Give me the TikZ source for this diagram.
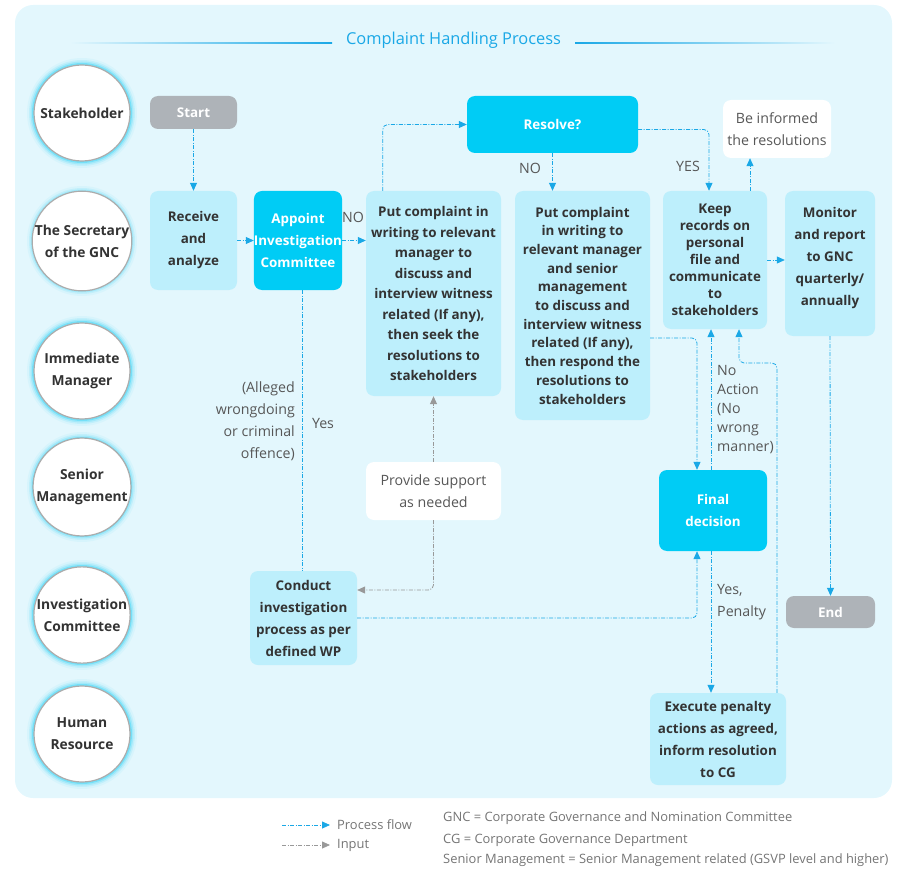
\documentclass[tikz,border=0pt]{standalone}
\usepackage{fontspec}
\setmainfont{Open Sans}
\usetikzlibrary{arrows.meta}

\definecolor{panel}{HTML}{E3F7FD}
\definecolor{pale}{HTML}{BDEFFC}
\definecolor{vivid}{HTML}{00CCF5}
\definecolor{stone}{HTML}{AEB3B8}
\definecolor{flowblue}{HTML}{1AA8E6}
\definecolor{inkgray}{HTML}{333333}
\definecolor{notegray}{HTML}{575757}
\definecolor{keygray}{HTML}{757575}

\newcommand{\boxfont}[1]{\fontsize{13.4pt}{#1pt}\selectfont\bfseries}
\newcommand{\lanefont}{\fontsize{13.8pt}{22pt}\selectfont\bfseries}
\newcommand{\notefont}[1]{\fontsize{14.2pt}{#1pt}\selectfont}

\begin{document}
\begin{tikzpicture}[x=1pt,y=-1pt,>={Triangle[length=8pt,width=7pt]}]
    \tikzstyle{lane}=[circle,draw=gray!65,line width=1.2pt,fill=white,minimum size=96pt,
                      inner sep=0pt,align=center,text=inkgray,font=\lanefont]
    \tikzstyle{paletask}=[rectangle,rounded corners=8pt,fill=pale,text=inkgray,align=center,inner sep=0pt]
    \tikzstyle{keytask}=[rectangle,rounded corners=8pt,fill=vivid,text=white,align=center,inner sep=0pt]
    \tikzstyle{endpoint}=[rectangle,rounded corners=8pt,fill=stone,text=white,align=center,
                          inner sep=0pt,font=\boxfont{20}]
    \tikzstyle{notebox}=[rectangle,rounded corners=8pt,fill=white,text=notegray,align=center,
                         inner sep=0pt,font=\notefont{22}]
    \tikzstyle{lbl}=[text=notegray,inner sep=0pt,font=\notefont{22}]
    \tikzstyle{flow}=[->,draw=flowblue,line width=0.8pt,rounded corners=5pt,
                      dash pattern=on 4pt off 1.5pt on 1pt off 1.5pt]
    \tikzstyle{input}=[->,draw=gray!80,line width=0.8pt,rounded corners=5pt,
                       dash pattern=on 4pt off 1.5pt on 1pt off 1.5pt]
    \tikzstyle{keytext}=[text=keygray,inner sep=0pt,anchor=west,font=\fontsize{12.9pt}{16pt}\selectfont]

    \useasboundingbox (0,0) rectangle (907,877);
    \fill[panel,rounded corners=18pt] (15,5) rectangle (892,798);

    % title
    \node[text=flowblue,font=\fontsize{16.4pt}{18pt}\selectfont] (title) at (453.5,40) {Complaint Handling Process};
    \shade[left color=panel,right color=flowblue] (70,42.5) rectangle (332,44);
    \shade[left color=flowblue,right color=panel] (575,42.5) rectangle (835,44);

    % lanes
    \foreach \y/\name/\txt in {113/stake/Stakeholder, 241/sec/{The Secretary\\of the GNC},
                               371/imm/{Immediate\\Manager}, 487/senior/{Senior\\Management},
                               615/invc/{Investigation\\Committee}, 734/hr/{Human\\Resource}}{
        \foreach \r/\op in {55/0.05,53/0.1,51.5/0.16,50/0.28}
            \fill[vivid,opacity=\op] (82,\y) circle (\r pt);
        \node[lane] (\name) at (82,\y) {\txt};
    }

    % process steps
    \node[endpoint,minimum width=87pt,minimum height=33pt] (start) at (193.5,112.5) {Start};
    \node[paletask,minimum width=87pt,minimum height=99pt,font=\boxfont{22}] (receive) at (193.5,240.5) {Receive\\and\\analyze};
    \node[keytask,minimum width=86pt,minimum height=99pt,font=\boxfont{22}] (appoint) at (298,240.5) {Appoint\\Investigation\\Committee};
    \node[paletask,minimum width=135pt,minimum height=205pt,font=\boxfont{20.5}] (put1) at (433.5,293.5)
        {Put complaint in\\writing to relevant\\manager to\\discuss and\\interview witness\\related (If any),\\then seek the\\resolutions to\\stakeholders};
    \node[keytask,minimum width=171pt,minimum height=57pt,font=\boxfont{20}] (resolve) at (552.5,124.5) {Resolve?};
    \node[paletask,minimum width=135pt,minimum height=229pt,font=\boxfont{18.7}] (put2) at (582.5,305.5)
        {Put complaint\\in writing to\\relevant manager\\and senior\\management\\to discuss and\\interview witness\\related (If any),\\then respond the\\resolutions to\\stakeholders};
    \node[paletask,minimum width=104pt,minimum height=138pt,font=\boxfont{17}] (keep) at (715,260)
        {Keep\\records on\\personal\\file and\\communicate\\to\\stakeholders};
    \node[notebox,minimum width=108pt,minimum height=58pt] (inform) at (777,129) {Be informed\\the resolutions};
    \node[paletask,minimum width=90pt,minimum height=145pt,font=\boxfont{22}] (monitor) at (830,263.5)
        {Monitor\\and report\\to GNC\\quarterly/\\annually\\[-7pt]};
    \node[keytask,minimum width=108pt,minimum height=81pt,font=\boxfont{22}] (final) at (713,510.5) {Final\\decision};
    \node[endpoint,minimum width=89pt,minimum height=32pt] (end) at (830.5,612) {End};
    \node[paletask,minimum width=107pt,minimum height=94pt,font=\boxfont{22}] (conduct) at (303.5,618)
        {Conduct\\investigation\\process as per\\defined WP};
    \node[notebox,minimum width=135pt,minimum height=58pt] (support) at (433.5,491) {Provide support\\as needed};
    \node[paletask,minimum width=136pt,minimum height=92pt,font=\boxfont{22}] (execute) at (718,739)
        {Execute penalty\\actions as agreed,\\inform resolution\\to CG};

    % connector labels
    \node[lbl] (noA) at (353,217) {NO};
    \node[lbl] (noB) at (530,168) {NO};
    \node[lbl] (yesA) at (688,166) {YES};
    \node[lbl,anchor=east,align=right] (alleged) at (295,421.5) {(Alleged\\wrongdoing\\or criminal\\offence)};
    \node[lbl] (yesB) at (323,423) {Yes};
    \node[lbl,anchor=west,align=left,font=\notefont{19}] (noact) at (717,410) {No\\Action\\(No\\wrong\\manner)};
    \node[lbl,anchor=west,align=left] (penalty) at (717,602) {Yes,\\Penalty};

    % process flow
    \path (start) edge[flow] (receive)
          (receive.east) edge[flow] (appoint.west)
          (appoint.east) edge[flow] (appoint.east -| put1.west)
          (resolve.south) edge[flow] (resolve.south |- put2.north)
          (keep.east) edge[flow] (keep.east -| monitor.west)
          (monitor.south) edge[flow] (end.north);
    \draw[flow] ([xshift=17pt]put1.north west) |- (resolve.west);
    \draw[flow] ([yshift=-5pt]resolve.east) -| ([xshift=-6pt]keep.north);
    \draw[flow] ([xshift=35pt]keep.north) -- ([xshift=35pt]keep.north |- inform.south);
    \draw[flow,-] ([xshift=4pt]appoint.south) -- ([xshift=4pt]appoint.south |- conduct.north);
    \draw[flow] (conduct.east) -| ([xshift=-16pt]final.south);
    \draw[flow] ([yshift=-32.5pt]put2.east) -| ([xshift=-16pt]final.north);
    \draw[flow] ([xshift=-2pt]final.north) -- ([xshift=-2pt]final.north |- keep.south);
    \draw[flow] ([xshift=-2pt]final.south) -- ([xshift=-2pt]final.south |- execute.north);
    \draw[flow] ([xshift=59pt]execute.north) -- ([xshift=59pt]execute.north |- 0,363) -| ([xshift=24pt]keep.south);

    % input
    \draw[input] (support.north) -- (put1.south);
    \draw[input] (support.south) |- ([yshift=28pt]conduct.east);

    % legend
    \coordinate (keyA) at (282,825);
    \coordinate (keyB) at (330,825);
    \coordinate (keyC) at (282,845);
    \coordinate (keyD) at (330,845);
    \draw[flow] (keyA) -- (keyB);
    \draw[input] (keyC) -- (keyD);
    \node[keytext] (keyflow) at (337,825) {Process flow};
    \node[keytext] (keyinput) at (337,845) {Input};
    \node[keytext] (gnc) at (443,818) {GNC = Corporate Governance and Nomination Committee};
    \node[keytext] (cg) at (443,840) {CG = Corporate Governance Department};
    \node[keytext] (sm) at (443,860) {Senior Management = Senior Management related (GSVP level and higher)};
\end{tikzpicture}
\end{document}
